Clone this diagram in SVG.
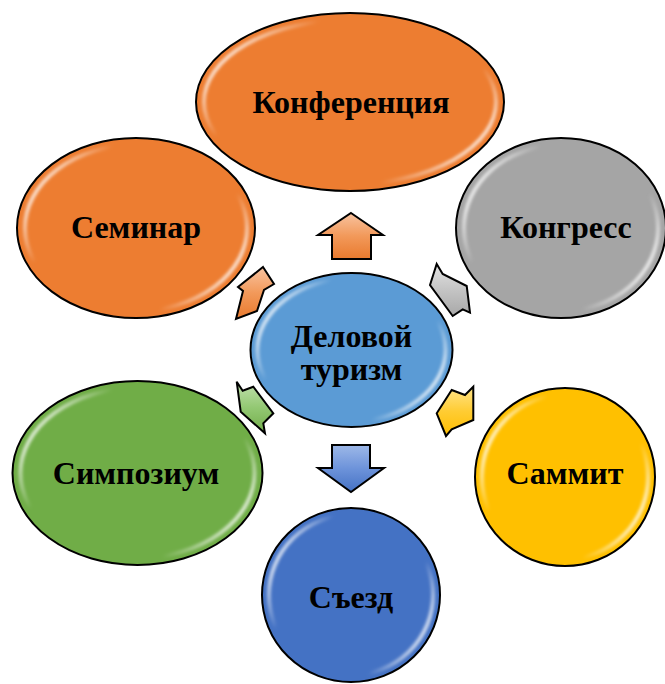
<svg xmlns="http://www.w3.org/2000/svg" width="665" height="684" viewBox="0 0 665 684">
<defs>
<style>
.node{stroke:#000;stroke-width:2}
.rim{fill:none;stroke:url(#rimGrad);stroke-width:4;filter:url(#blur)}
.lbl{font-family:"Liberation Serif","Times New Roman",serif;font-weight:bold;font-size:32px;fill:#000;text-anchor:middle}
.arr{stroke:#000;stroke-width:2;stroke-linejoin:miter}
</style>
<filter id="blur" x="-10%" y="-10%" width="120%" height="120%"><feGaussianBlur stdDeviation="1.6"/></filter>
<linearGradient id="rimGrad" x1="0" y1="0.25" x2="1" y2="0.75">
<stop offset="0" stop-color="#fff" stop-opacity="0.95"/>
<stop offset="0.1" stop-color="#fff" stop-opacity="0.5"/>
<stop offset="0.22" stop-color="#fff" stop-opacity="0"/>
<stop offset="0.78" stop-color="#fff" stop-opacity="0"/>
<stop offset="0.9" stop-color="#fff" stop-opacity="0.5"/>
<stop offset="1" stop-color="#fff" stop-opacity="0.95"/>
</linearGradient>
<linearGradient id="gOr" x1="0" y1="0" x2="0" y2="1"><stop offset="0" stop-color="#F8C3A0"/><stop offset="0.5" stop-color="#F2995A"/><stop offset="1" stop-color="#E97A2E"/></linearGradient>
<linearGradient id="gGr" x1="0" y1="0" x2="0" y2="1"><stop offset="0" stop-color="#E2E2E2"/><stop offset="0.5" stop-color="#C4C4C4"/><stop offset="1" stop-color="#A8A8A8"/></linearGradient>
<linearGradient id="gYe" x1="0" y1="0" x2="0" y2="1"><stop offset="0" stop-color="#FFE48A"/><stop offset="0.5" stop-color="#FFCC33"/><stop offset="1" stop-color="#FFBE00"/></linearGradient>
<linearGradient id="gGn" x1="0" y1="0" x2="0" y2="1"><stop offset="0" stop-color="#C2E0AE"/><stop offset="0.5" stop-color="#93C873"/><stop offset="1" stop-color="#72AD4A"/></linearGradient>
<linearGradient id="gBl" x1="0" y1="0" x2="0" y2="1"><stop offset="0" stop-color="#9DB8E8"/><stop offset="0.5" stop-color="#6D93DA"/><stop offset="1" stop-color="#4572C4"/></linearGradient>
</defs>
<rect width="665" height="684" fill="#fff"/>

<g id="connectors">
<polygon class="arr" fill="url(#gOr)" points="351,213 383,235 371,235 371,259 332,259 332,235 318,235"/>
<polygon class="arr" fill="url(#gBl)" points="332,445 370,445 370,468 384,468 351,492 318,468 332,468"/>
<polygon class="arr" fill="url(#gOr)" points="263,267 274,284 264,290 257,311 236,319 243,291 238,287"/>
<polygon class="arr" fill="url(#gGr)" points="436.7,264 442.7,274 466.7,286 470,312.7 462.7,309.3 452.7,316 430,285"/>
<polygon class="arr" fill="url(#gYe)" points="451.7,390 465,395 473.3,386.7 473.3,420 451.7,429.3 446,436 436.7,413.3"/>
<polygon class="arr" fill="url(#gGn)" points="236.7,381.7 242.7,390.7 253.3,386.7 273.3,413.3 263.3,423.3 265,433.3 240.7,411.7"/>
</g>

<g id="node-center">
<ellipse class="node" cx="351.5" cy="350" rx="101" ry="77" fill="#5B9BD5"/>
<ellipse class="rim" cx="351.5" cy="350" rx="94" ry="71"/>
<text class="lbl" x="351.5" y="347">Деловой</text>
<text class="lbl" x="351.5" y="380">туризм</text>
</g>

<g id="node-konferentsiya">
<ellipse class="node" cx="350" cy="102" rx="154" ry="89" fill="#ED7D31"/>
<ellipse class="rim" cx="350" cy="102" rx="146" ry="82"/>
<text class="lbl" x="351" y="113">Конференция</text>
</g>

<g id="node-seminar">
<ellipse class="node" cx="136" cy="228" rx="119" ry="90" fill="#ED7D31"/>
<ellipse class="rim" cx="136" cy="228" rx="111" ry="83"/>
<text class="lbl" x="136" y="238">Семинар</text>
</g>

<g id="node-kongress">
<ellipse class="node" cx="561" cy="228" rx="105" ry="90" fill="#A5A5A5"/>
<ellipse class="rim" cx="561" cy="228" rx="97" ry="83"/>
<text class="lbl" x="566" y="238">Конгресс</text>
</g>

<g id="node-simpozium">
<ellipse class="node" cx="137.5" cy="473" rx="125" ry="92" fill="#70AD47"/>
<ellipse class="rim" cx="137.5" cy="473" rx="117" ry="85"/>
<text class="lbl" x="136" y="484">Симпозиум</text>
</g>

<g id="node-sammit">
<ellipse class="node" cx="565" cy="477" rx="90" ry="89" fill="#FFC000"/>
<ellipse class="rim" cx="565" cy="477" rx="83" ry="82"/>
<text class="lbl" x="565" y="484">Саммит</text>
</g>

<g id="node-sezd">
<ellipse class="node" cx="351" cy="595" rx="89" ry="87" fill="#4472C4"/>
<ellipse class="rim" cx="351" cy="595" rx="82" ry="80"/>
<text class="lbl" x="351" y="608">Съезд</text>
</g>
</svg>
